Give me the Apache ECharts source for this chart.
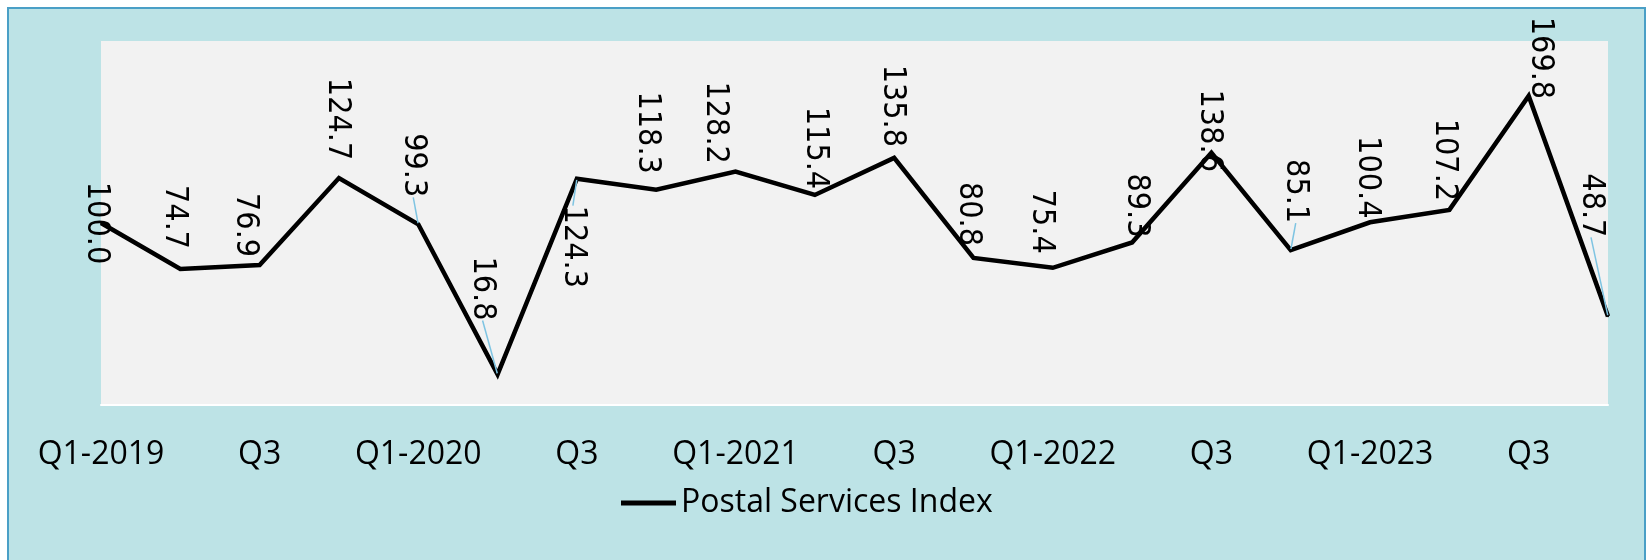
<!DOCTYPE html>
<html>
<head>
<meta charset="utf-8">
<script src="https://cdn.jsdelivr.net/npm/echarts@6/dist/echarts.min.js"></script>
<style>
  html, body { margin: 0; padding: 0; background: #fff; }
  #frame { position: absolute; left: 7px; top: 7px; width: 1635px; height: 560px; background: #bde3e6; border: 2px solid #4a9fc6; }
  #chart { position: absolute; left: 0; top: 0; width: 1648px; height: 560px; }
</style>
</head>
<body>
<div id="frame"></div>
<div id="chart"></div>
<script>
// quarters (only Q1 and Q3 are labelled on the axis)
const quarters = [
    'Q1-2019', 'Q2', 'Q3', 'Q4',
    'Q1-2020', 'Q2', 'Q3', 'Q4',
    'Q1-2021', 'Q2', 'Q3', 'Q4',
    'Q1-2022', 'Q2', 'Q3', 'Q4',
    'Q1-2023', 'Q2', 'Q3', 'Q4'
];
const postalIndex = [
    100.0, 74.7, 76.9, 124.7,
    99.3, 16.8, 124.3, 118.3,
    128.2, 115.4, 135.8, 80.8,
    75.4, 89.3, 138.6, 85.1,
    100.4, 107.2, 169.8, 48.7
];
// where each data label sits relative to its point on screen (px)
const labelShift = [
    [-5, 0], [-6, -52], [-14, -40], [-2, -59],
    [-5, -59], [-15, -86], [-4, 68], [-9, -57],
    [-20, -49], [0, -47], [-2, -52], [-5, -44],
    [-11, -46], [4, -37], [-2, -22], [5, -59],
    [-3, -45], [-5, -50], [12, -38], [-17, -111]
];
// labels that keep a leader line
const leaderLines = [4, 5, 6, 15, 19];

const chart = echarts.init(document.getElementById('chart'));

chart.setOption({
    backgroundColor: 'transparent',
    animation: false,
    grid: {
        left: 101, right: 40, top: 41, bottom: 155,
        show: true, backgroundColor: '#f2f2f2', borderWidth: 0
    },
    legend: {
        data: [{ name: 'Postal Services Index', icon: 'rect' }],
        left: 616, top: 482,
        itemWidth: 55, itemHeight: 5,
        itemStyle: { color: '#000' },
        textStyle: { fontFamily: 'Open Sans', fontSize: 32, color: '#000' }
    },
    xAxis: {
        type: 'category',
        data: quarters,
        boundaryGap: false,
        axisLine: { lineStyle: { color: '#ffffff', width: 2 } },
        axisTick: { show: false },
        axisLabel: { interval: 1, margin: 34, fontFamily: 'Open Sans', fontSize: 32, color: '#000' },
        splitLine: { show: false }
    },
    yAxis: { type: 'value', min: 0, max: 200, show: false, splitLine: { show: false } },
    series: [{
        name: 'Postal Services Index',
        type: 'line',
        silent: true,
        data: postalIndex.map((v, i) => ({ value: v, labelLine: { show: leaderLines.includes(i) } })),
        symbol: 'circle',
        symbolSize: 2,
        itemStyle: { color: '#000' },
        lineStyle: { color: '#000', width: 4.5, join: 'miter' },
        label: {
            show: true, position: 'inside', rotate: -90, color: '#000',
            fontFamily: "'DejaVu Sans Condensed', 'DejaVu Sans'", fontSize: 32,
            textBorderWidth: 0,
            formatter: p => p.value.toFixed(1)
        },
        labelLine: { show: false, lineStyle: { color: '#7ec4e2', width: 1.5 } },
        // the label is turned a quarter clockwise, so its offset is turned too
        labelLayout: p => ({ dx: labelShift[p.dataIndex][1], dy: -labelShift[p.dataIndex][0] })
    }]
});
</script>
</body>
</html>
